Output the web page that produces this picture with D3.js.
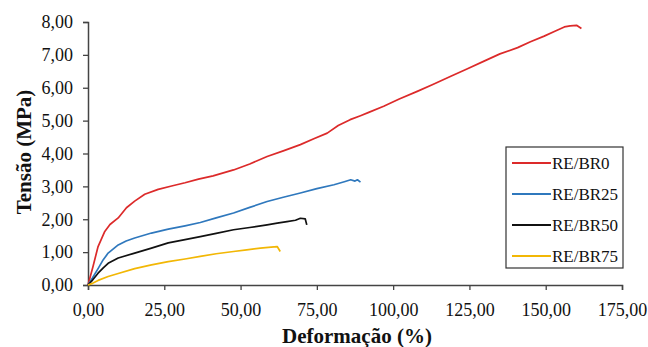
<!DOCTYPE html>
<html>
<head>
<meta charset="utf-8">
<script src="https://cdn.jsdelivr.net/npm/d3@7"></script>
<style>
  body { margin: 0; background: #fff; }
</style>
</head>
<body>
<svg id="chart" width="648" height="347"></svg>
<script>
// values (deformation %, stress MPa)
const seriesNames = ["RE/BR0", "RE/BR25", "RE/BR50", "RE/BR75"];
const seriesColors = ["#dc2a2a", "#2f78bd", "#111111", "#f2b705"];

const br0 = [
  [0, 0], [1.6, 0.55], [3.3, 1.17], [5.5, 1.63], [7.2, 1.84], [9.9, 2.04], [12.6, 2.35],
  [15.3, 2.55], [18.6, 2.76], [23, 2.91], [27.4, 3.01], [31.8, 3.11], [36.2, 3.22],
  [41, 3.32], [47.7, 3.5], [53, 3.68], [58.7, 3.91], [64, 4.08], [69.6, 4.27],
  [74, 4.45], [78.4, 4.62], [82, 4.85], [85.9, 5.03], [89.3, 5.15], [92, 5.25],
  [96.9, 5.44], [102, 5.66], [107.9, 5.89], [113, 6.1], [118.9, 6.35], [124, 6.56],
  [129.8, 6.81], [135, 7.03], [140.8, 7.22], [145, 7.4], [149.5, 7.57], [153, 7.72],
  [156.1, 7.85], [158, 7.88], [160.1, 7.9], [161.7, 7.8]
];
const br25 = [
  [0, 0], [1.5, 0.22], [3.3, 0.5], [5, 0.77], [6.6, 0.97], [9.9, 1.22], [12.5, 1.34],
  [15.3, 1.43], [20.8, 1.58], [26.3, 1.7], [31.8, 1.8], [36.8, 1.9], [42, 2.04],
  [47.7, 2.19], [53, 2.36], [58.7, 2.54], [64, 2.67], [69.6, 2.8], [75, 2.93],
  [80.6, 3.05], [84, 3.14], [86.1, 3.2], [87.5, 3.16], [88.3, 3.2], [89.3, 3.13]
];
const br50 = [
  [0, 0], [1.5, 0.15], [3.3, 0.36], [5, 0.52], [6.6, 0.66], [9.9, 0.82], [15.3, 0.97],
  [20.8, 1.12], [26.3, 1.28], [31.8, 1.38], [36.8, 1.47], [42, 1.57], [47.7, 1.68],
  [53, 1.75], [58.7, 1.83], [62, 1.88], [65.2, 1.93], [68, 1.97], [69.6, 2.03],
  [71.2, 2.01], [71.7, 1.83]
];
const br75 = [
  [0, 0], [1.5, 0.05], [3.3, 0.14], [6.6, 0.26], [9.9, 0.35], [15.3, 0.5],
  [20.8, 0.61], [26.3, 0.71], [31.8, 0.79], [36.8, 0.87], [42, 0.95], [47.7, 1.02],
  [52, 1.07], [56.5, 1.12], [60, 1.15], [62, 1.17], [63, 1.02]
];
const allSeries = [br0, br25, br50, br75];

const xTicks = [0, 25, 50, 75, 100, 125, 150, 175];
const yTicks = [0, 1, 2, 3, 4, 5, 6, 7, 8];

const serif = "'Liberation Serif', 'Times New Roman', serif";
const svg = d3.select("#chart");
const plotLeft = 88, plotRight = 622, plotTop = 22, plotBottom = 285;

const x = d3.scaleLinear().domain([0, 175]).range([plotLeft, plotRight]);
const y = d3.scaleLinear().domain([0, 8]).range([plotBottom, plotTop]);
const fmt = d => d3.format(".2f")(d).replace(".", ",");

// axes
const xAxis = svg.append("g")
  .attr("transform", "translate(0," + plotBottom + ")")
  .call(d3.axisBottom(x).tickValues(xTicks).tickFormat(fmt).tickSizeOuter(0).tickSize(5).tickPadding(13));
const yAxis = svg.append("g")
  .attr("transform", "translate(" + plotLeft + ",0)")
  .call(d3.axisLeft(y).tickValues(yTicks).tickFormat(fmt).tickSizeOuter(0).tickSize(5).tickPadding(10));

[xAxis, yAxis].forEach(a => {
  a.attr("font-family", serif).attr("font-size", 18);
  a.select(".domain").attr("stroke", "#444").attr("stroke-width", 1.5);
  a.selectAll(".tick line").attr("stroke", "#444").attr("stroke-width", 1.3);
  a.selectAll(".tick text").attr("fill", "#111");
});

// curves
const line = d3.line().x(d => x(d[0])).y(d => y(d[1]));
allSeries.forEach((s, i) => {
  svg.append("path")
    .datum(s)
    .attr("d", line)
    .attr("fill", "none")
    .attr("stroke", seriesColors[i])
    .attr("stroke-width", 1.7)
    .attr("stroke-linejoin", "round");
});

// axis titles
svg.append("text")
  .attr("x", 357)
  .attr("y", 343)
  .attr("text-anchor", "middle")
  .attr("font-family", serif)
  .attr("font-size", 21)
  .attr("font-weight", "bold")
  .attr("fill", "#111")
  .text("Deformação (%)");

svg.append("text")
  .attr("transform", "translate(31,152) rotate(-90)")
  .attr("text-anchor", "middle")
  .attr("font-family", serif)
  .attr("font-size", 21)
  .attr("font-weight", "bold")
  .attr("fill", "#111")
  .text("Tensão (MPa)");

// legend
const legend = svg.append("g");
legend.append("rect")
  .attr("x", 506).attr("y", 147)
  .attr("width", 117).attr("height", 121)
  .attr("fill", "#fff")
  .attr("stroke", "#333")
  .attr("stroke-width", 1.2);

seriesNames.forEach((name, i) => {
  const ly = 163 + i * 31;
  legend.append("line")
    .attr("x1", 512).attr("x2", 551)
    .attr("y1", ly).attr("y2", ly)
    .attr("stroke", seriesColors[i])
    .attr("stroke-width", 1.8);
  legend.append("text")
    .attr("x", 552).attr("y", ly + 6)
    .attr("font-family", serif)
    .attr("font-size", 17)
    .attr("fill", "#111")
    .text(name);
});
</script>
</body>
</html>
